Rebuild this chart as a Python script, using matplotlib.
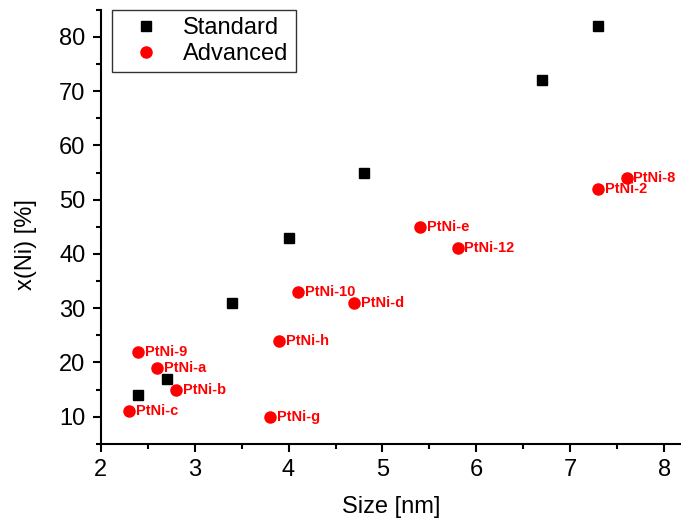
import matplotlib
matplotlib.use("Agg")
import matplotlib.pyplot as plt
from matplotlib.ticker import MultipleLocator

plt.rcParams['font.family'] = ['Liberation Sans', 'DejaVu Sans']

std_size = [2.4, 2.7, 3.4, 4.0, 4.8, 6.7, 7.3]
std_ni = [14, 17, 31, 43, 55, 72, 82]

adv_labels = ['PtNi-9', 'PtNi-a', 'PtNi-b', 'PtNi-c', 'PtNi-g', 'PtNi-h',
              'PtNi-10', 'PtNi-d', 'PtNi-e', 'PtNi-12', 'PtNi-2', 'PtNi-8']
adv_size = [2.4, 2.6, 2.8, 2.3, 3.8, 3.9, 4.1, 4.7, 5.4, 5.8, 7.3, 7.6]
adv_ni = [22, 19, 15, 11, 10, 24, 33, 31, 45, 41, 52, 54]

fig = plt.figure(figsize=(6.81, 5.19), dpi=100)
ax = fig.add_axes([0.148, 0.145, 0.852, 0.836])

ax.plot(std_size, std_ni, 's', color='black', markersize=6.5, linestyle='none', label='Standard')
ax.plot(adv_size, adv_ni, 'o', color='#ff0000', markersize=8, linestyle='none', label='Advanced')

for lab, x, y in zip(adv_labels, adv_size, adv_ni):
    ax.annotate(lab, (x, y), xytext=(5, 0), textcoords='offset points',
                color='#ff0000', fontsize=10.5, fontweight='bold', va='center', ha='left')

ax.set_xlim(2, 8.18)
ax.set_ylim(5, 85)
ax.xaxis.set_major_locator(MultipleLocator(1))
ax.xaxis.set_minor_locator(MultipleLocator(0.5))
ax.yaxis.set_major_locator(MultipleLocator(10))
ax.yaxis.set_minor_locator(MultipleLocator(5))
ax.tick_params(which='major', direction='out', length=6, width=1.5, labelsize=17, pad=5)
ax.tick_params(which='minor', direction='out', length=3.5, width=1.5)
ax.spines['top'].set_visible(False)
ax.spines['right'].set_visible(False)
ax.spines['left'].set_linewidth(1.5)
ax.spines['bottom'].set_linewidth(1.5)

ax.set_xlabel('Size [nm]', fontsize=17, labelpad=11)
ax.set_ylabel('x(Ni) [%]', fontsize=17, va='center')
ax.yaxis.set_label_coords(-0.129, 0.458)

leg = ax.legend(loc='upper left', bbox_to_anchor=(0.019, 1.0), fontsize=17,
                frameon=True, fancybox=False, edgecolor='black', borderpad=0.3,
                handletextpad=0.42, labelspacing=0.18, borderaxespad=0,
                handlelength=2.3)
leg.get_frame().set_linewidth(1.0)

fig.savefig('out.png', dpi=100)
